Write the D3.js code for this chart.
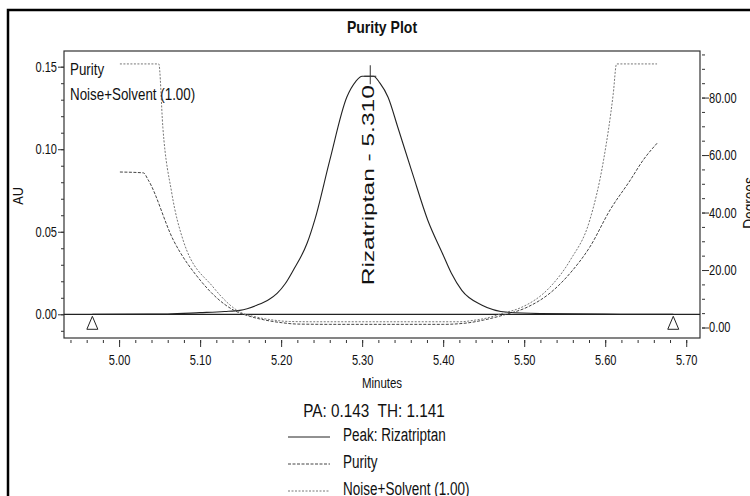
<!DOCTYPE html>
<html lang="en">
<head>
<meta charset="UTF-8">
<title>Purity Plot</title>
<script src="https://d3js.org/d3.v7.min.js"></script>
<style>
    body { margin: 0; background: #fff; }
    svg text {
        font-family: "Liberation Sans", Arial, sans-serif;
        fill: #111;
    }
</style>
</head>
<body>
<script>
// axis tick labels
const minuteTicks = [5.00, 5.10, 5.20, 5.30, 5.40, 5.50, 5.60, 5.70];
const auTicks = [0.00, 0.05, 0.10, 0.15];
const degreeTicks = [0, 20, 40, 60, 80];

// Peak: Rizatriptan (minutes -> AU)
const peakMinutes = [4.967, 5.060, 5.100, 5.130, 5.149, 5.170, 5.185, 5.195, 5.205, 5.215, 5.232, 5.242,
    5.260, 5.281, 5.292, 5.300, 5.314, 5.322, 5.332, 5.344, 5.362, 5.381, 5.399, 5.410, 5.423,
    5.448, 5.480, 5.520, 5.600, 5.684];
const peakAU = [0.0000, 0.0002, 0.0010, 0.0017, 0.0024, 0.0055, 0.0090, 0.0127, 0.0185, 0.0267, 0.0430, 0.0580,
    0.0933, 0.1315, 0.1410, 0.1442, 0.1442, 0.1400, 0.1315, 0.1133, 0.0855, 0.0570, 0.0370, 0.0250, 0.0145,
    0.0055, 0.0012, 0.0004, 0.0001, 0.0000];

// Purity (minutes -> degrees)
const purityMinutes = [5.001, 5.030, 5.036, 5.067, 5.100, 5.141, 5.160, 5.180, 5.200, 5.220, 5.260, 5.400,
    5.430, 5.450, 5.474, 5.504, 5.532, 5.557, 5.581, 5.606, 5.631, 5.647, 5.664];
const purityDegrees = [54.1, 53.8, 51.3, 30.4, 16.5, 6.1, 4.0, 2.6, 1.7, 1.2, 1.1, 1.1,
    1.6, 2.6, 4.3, 7.1, 12.0, 19.0, 28.0, 40.9, 51.3, 58.3, 64.1];

// Noise+Solvent (1.00) (minutes -> degrees)
const noiseMinutes = [5.001, 5.049, 5.054, 5.065, 5.079, 5.116, 5.149, 5.170, 5.190, 5.210, 5.240, 5.420,
    5.440, 5.454, 5.474, 5.495, 5.532, 5.557, 5.581, 5.598, 5.610, 5.614, 5.664];
const noiseDegrees = [91.7, 91.7, 69.7, 46.8, 30.4, 14.1, 5.4, 3.6, 2.6, 2.1, 2.0, 2.0,
    2.6, 3.3, 5.0, 6.8, 14.1, 23.5, 37.4, 58.3, 81.5, 91.7, 91.7];

// peak apex and integration marks
const apexMinutes = 5.310;
const apexAU = 0.1442;
const markMinutes = [4.967, 5.684];

const legendNames = ["Peak: Rizatriptan", "Purity", "Noise+Solvent (1.00)"];

const width = 750, height = 496;
const plotLeft = 64, plotRight = 700, plotTop = 51, plotBottom = 338;

const svg = d3.select("body").append("svg")
    .attr("width", width)
    .attr("height", height);

const x = d3.scaleLinear().domain([4.932, 5.717]).range([plotLeft, plotRight]);
const yAU = d3.scaleLinear().domain([-0.01436, 0.1595]).range([plotBottom, plotTop]);
const yDeg = d3.scaleLinear().domain([-3.65, 96.2]).range([plotBottom, plotTop]);

// squeeze text horizontally, the printout uses a narrow face
function narrow(sel, k) {
    sel.each(function() {
        const w = this.getComputedTextLength();
        d3.select(this).attr("textLength", w * k).attr("lengthAdjust", "spacingAndGlyphs");
    });
}

// outer border
svg.append("rect")
    .attr("x", 8).attr("y", 10)
    .attr("width", 780).attr("height", 520)
    .attr("fill", "none")
    .attr("stroke", "#000")
    .attr("stroke-width", 2.5);

svg.append("text")
    .attr("x", 382).attr("y", 33)
    .attr("text-anchor", "middle")
    .attr("font-weight", "bold")
    .attr("font-size", 16.5)
    .text("Purity Plot")
    .call(narrow, 0.85);

svg.append("defs").append("clipPath").attr("id", "plot")
    .append("rect")
    .attr("x", plotLeft).attr("y", plotTop)
    .attr("width", plotRight - plotLeft).attr("height", plotBottom - plotTop);

// frame
svg.append("rect")
    .attr("x", plotLeft).attr("y", plotTop)
    .attr("width", plotRight - plotLeft).attr("height", plotBottom - plotTop)
    .attr("fill", "none")
    .attr("stroke", "#333")
    .attr("stroke-width", 1.2);

const plot = svg.append("g").attr("clip-path", "url(#plot)");

// baseline
plot.append("line")
    .attr("x1", plotLeft).attr("x2", plotRight)
    .attr("y1", yAU(0)).attr("y2", yAU(0))
    .attr("stroke", "#222")
    .attr("stroke-width", 1.2);

const auLine = d3.line()
    .x(i => x(peakMinutes[i]))
    .y(i => yAU(peakAU[i]))
    .curve(d3.curveMonotoneX);

plot.append("path")
    .attr("d", auLine(d3.range(peakMinutes.length)))
    .attr("fill", "none")
    .attr("stroke", "#222")
    .attr("stroke-width", 1.1);

function degLine(xs, ys) {
    return d3.line()
        .x(i => x(xs[i]))
        .y(i => yDeg(ys[i]))
        .curve(d3.curveMonotoneX)(d3.range(xs.length));
}

plot.append("path")
    .attr("d", degLine(purityMinutes, purityDegrees))
    .attr("fill", "none")
    .attr("stroke", "#444")
    .attr("stroke-width", 1)
    .attr("stroke-dasharray", "3,1.5");

plot.append("path")
    .attr("d", degLine(noiseMinutes, noiseDegrees))
    .attr("fill", "none")
    .attr("stroke", "#777")
    .attr("stroke-width", 1)
    .attr("stroke-dasharray", "2,1.5");

// apex marker and label
const ax = x(apexMinutes), ay = yAU(apexAU);
svg.append("path")
    .attr("d", `M${ax},${ay - 11}V${ay + 8}M${ax - 6},${ay}H${ax + 6}`)
    .attr("stroke", "#333")
    .attr("stroke-width", 1);

svg.append("text")
    .attr("transform", `translate(${ax + 4},${ay + 9}) rotate(-90)`)
    .attr("text-anchor", "end")
    .attr("font-size", 16)
    .attr("textLength", 200)
    .attr("lengthAdjust", "spacingAndGlyphs")
    .text("Rizatriptan - " + apexMinutes.toFixed(3));

// integration marks
svg.append("g").selectAll("path")
    .data(markMinutes)
    .join("path")
    .attr("d", d => {
        const cx = x(d), cy = yAU(0);
        return `M${cx},${cy + 2}L${cx + 5.5},${cy + 15}H${cx - 5.5}Z`;
    })
    .attr("fill", "#fff")
    .attr("stroke", "#222")
    .attr("stroke-width", 1);

// left axis (AU)
const axisFont = 14;
svg.append("g")
    .attr("transform", `translate(${plotLeft},0)`)
    .call(d3.axisLeft(yAU).tickValues(d3.range(-0.01, 0.155, 0.01)).tickSize(3).tickFormat(""))
    .call(g => g.select(".domain").remove());
const leftAxis = svg.append("g")
    .attr("transform", `translate(${plotLeft},0)`)
    .call(d3.axisLeft(yAU).tickValues(auTicks).tickSize(6).tickPadding(1).tickFormat(d3.format(".2f")))
    .call(g => g.select(".domain").remove());

svg.append("text")
    .attr("transform", `translate(23,196) rotate(-90)`)
    .attr("text-anchor", "middle")
    .attr("font-size", 14)
    .text("AU")
    .call(narrow, 0.9);

// right axis (Degrees)
svg.append("g")
    .attr("transform", `translate(${plotRight + 2},0)`)
    .call(d3.axisRight(yDeg).tickValues(d3.range(0, 96, 5)).tickSize(3).tickFormat(""))
    .call(g => g.select(".domain").remove());
const rightAxis = svg.append("g")
    .attr("transform", `translate(${plotRight + 2},0)`)
    .call(d3.axisRight(yDeg).tickValues(degreeTicks).tickSize(7).tickPadding(0).tickFormat(d3.format(".2f")))
    .call(g => g.select(".domain").remove());

svg.append("text")
    .attr("transform", `translate(755,203) rotate(-90)`)
    .attr("text-anchor", "middle")
    .attr("font-size", 16)
    .text("Degrees")
    .call(narrow, 0.85);

// bottom axis (Minutes)
svg.append("g")
    .attr("transform", `translate(0,${plotBottom + 2})`)
    .call(d3.axisBottom(x).tickValues(d3.range(4.94, 5.711, 0.02)).tickSize(3).tickFormat(""))
    .call(g => g.select(".domain").remove());
const bottomAxis = svg.append("g")
    .attr("transform", `translate(0,${plotBottom + 2})`)
    .call(d3.axisBottom(x).tickValues(minuteTicks).tickSize(7).tickFormat(d3.format(".2f")))
    .call(g => g.select(".domain").remove())
    .call(g => g.selectAll("text").attr("y", 25).attr("dy", 0));

svg.selectAll(".tick line").attr("stroke", "#333");
svg.selectAll(".tick text")
    .attr("font-family", null)
    .attr("fill", "#111")
    .attr("font-size", axisFont)
    .call(narrow, 0.79);

svg.append("text")
    .attr("x", 382).attr("y", 388)
    .attr("text-anchor", "middle")
    .attr("font-size", 14)
    .text("Minutes")
    .call(narrow, 0.82);

svg.append("text")
    .attr("x", 374).attr("y", 417)
    .attr("text-anchor", "middle")
    .attr("font-size", 18)
    .attr("xml:space", "preserve")
    .text("PA: 0.143  TH: 1.141")
    .call(narrow, 0.85);

// in-plot labels
svg.append("text").attr("x", 70).attr("y", 75).attr("font-size", 16.5)
    .text(legendNames[1]).call(narrow, 0.81);
svg.append("text").attr("x", 70).attr("y", 100).attr("font-size", 16.5)
    .text(legendNames[2]).call(narrow, 0.81);

// legend below
const legendStyles = [
    { stroke: "#222", dash: null },
    { stroke: "#444", dash: "3,1.5" },
    { stroke: "#777", dash: "2,1.5" }
];
const legendY = [437, 464, 491];
const legend = svg.append("g").selectAll("g")
    .data(legendNames)
    .join("g")
    .attr("transform", (d, i) => `translate(288,${legendY[i]})`);

legend.append("line")
    .attr("x1", 0).attr("x2", 42)
    .attr("stroke", (d, i) => legendStyles[i].stroke)
    .attr("stroke-width", 1)
    .attr("stroke-dasharray", (d, i) => legendStyles[i].dash);

legend.append("text")
    .attr("x", 55).attr("y", 4)
    .attr("font-size", 18)
    .text(d => d)
    .call(narrow, 0.75);
</script>
</body>
</html>
